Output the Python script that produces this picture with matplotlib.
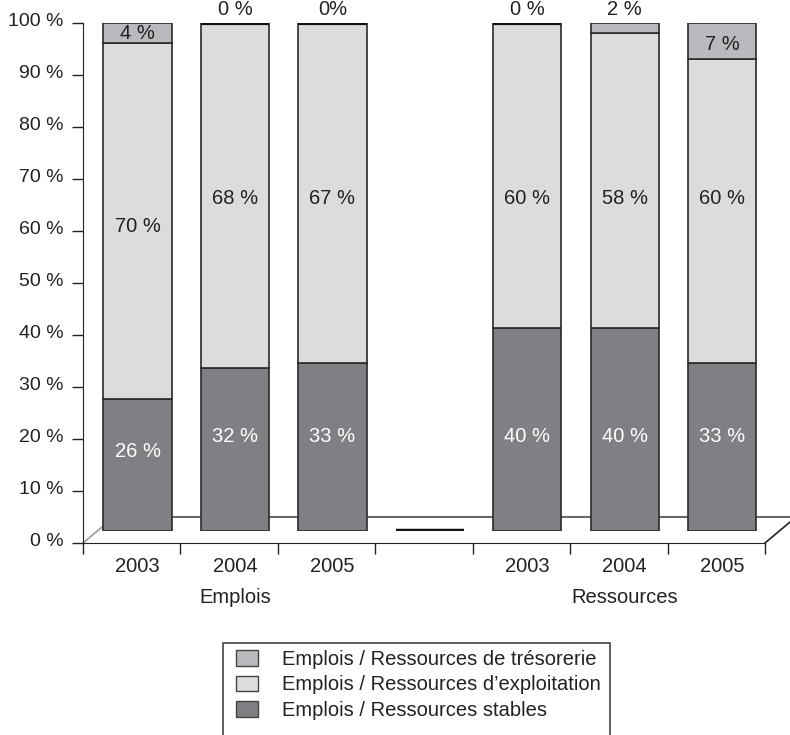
import matplotlib
matplotlib.use("Agg")
import matplotlib.pyplot as plt
import matplotlib.transforms as mtransforms
from matplotlib.patches import Patch, Rectangle

plt.rcParams['font.family'] = ['Liberation Sans', 'DejaVu Sans']

# --- data -------------------------------------------------------------
years = ['2003', '2004', '2005', '', '2003', '2004', '2005']
groups = ['Emplois', 'Ressources']
stables = [26, 32, 33, 0, 40, 40, 33]
exploitation = [70, 68, 67, 0, 60, 58, 60]
tresorerie = [4, 0, 0, 0, 0, 2, 7]
lbl_stables = ['26 %', '32 %', '33 %', '', '40 %', '40 %', '33 %']
lbl_exploit = ['70 %', '68 %', '67 %', '', '60 %', '58 %', '60 %']
lbl_treso = ['4 %', '0 %', '0%', '', '0 %', '2 %', '7 %']
legend_labels = ['Emplois / Ressources de trésorerie',
                 'Emplois / Ressources d\u2019exploitation',
                 'Emplois / Ressources stables']

# label heights inside the bars (layout only)
y_stables = [15.6, 18.7, 18.7, 0, 18.7, 18.7, 18.7]
y_exploit = [60, 65.4, 65.4, 0, 65.4, 65.4, 65.4]
y_treso = [98, 102.6, 102.6, 0, 102.6, 102.6, 95.7]

c_stable = '#808084'
c_exploit = '#dcdcde'
c_treso = '#b9babd'
edge = '#2a2a2a'
txt = '#222222'
fs = 14.5

W, H = 790, 735
fig = plt.figure(figsize=(W / 100, H / 100), dpi=100)

# axis frame (0 % .. 100 % on the front edge)
ax = fig.add_axes([83 / W, (H - 543) / H, 682 / W, 520 / H])
ax.set_xlim(-0.5, 6.5)
ax.set_ylim(0, 100)
for s in ['top', 'right']:
    ax.spines[s].set_visible(False)
ax.spines['left'].set_color(txt)
ax.spines['bottom'].set_color(txt)
ax.set_yticks(range(0, 101, 10))
ax.set_yticklabels([f'{v} %' for v in range(0, 101, 10)], fontsize=14, color=txt)
ax.set_xticks([i - 0.5 for i in range(8)])
ax.set_xticklabels([])
ax.tick_params(axis='both', length=8, width=1, color=txt, direction='out')
ax.tick_params(axis='y', pad=6)
# labels sit a little above their ticks
shift = mtransforms.ScaledTranslation(0, 3.5 / 100, fig.dpi_scale_trans)
for t in ax.get_yticklabels():
    t.set_transform(t.get_transform() + shift)

# pseudo 3D floor
dx, dy = 0.318, 5.0
ax.plot([-0.5, -0.5 + dx], [0, dy], color='#9a9a9a', lw=1.2, clip_on=False, zorder=1)
ax.plot([-0.5 + dx, 6.5 + dx], [dy, dy], color='#6a6a6a', lw=1.5, clip_on=False, zorder=1)
ax.plot([6.5, 6.5 + dx], [0, dy], color=txt, lw=1.2, clip_on=False, zorder=1)

# year and group labels
for i, y in enumerate(years):
    ax.text(i + 0.06, -4.6, y, ha='center', va='center', fontsize=fs, color=txt, clip_on=False)
ax.text(1.06, -10.4, groups[0], ha='center', va='center', fontsize=fs, color=txt, clip_on=False)
ax.text(5.06, -10.4, groups[1], ha='center', va='center', fontsize=fs, color=txt, clip_on=False)

# bars sit on the floor, a bit above the front edge
bx = fig.add_axes([83 / W, (H - 531) / H, 682 / W, 508 / H])
bx.set_xlim(-0.5, 6.5)
bx.set_ylim(0, 100)
bx.axis('off')
bx.patch.set_alpha(0)

x = [i + 0.06 for i in range(len(years))]
for i in range(len(years)):
    bottom = 0
    for val, col in [(stables[i], c_stable), (exploitation[i], c_exploit), (tresorerie[i], c_treso)]:
        lw = 1.2 if val > 0 else 3
        ec = edge if val > 0 else '#111111'
        bx.bar(x[i], val, 0.70, bottom=bottom, color=col, edgecolor=ec, linewidth=lw)
        bottom += val

for i in range(len(years)):
    if lbl_stables[i]:
        bx.text(x[i], y_stables[i], lbl_stables[i], ha='center', va='center', fontsize=fs, color='white')
    if lbl_exploit[i]:
        bx.text(x[i], y_exploit[i], lbl_exploit[i], ha='center', va='center', fontsize=fs, color=txt)
    if lbl_treso[i]:
        bx.text(x[i], y_treso[i], lbl_treso[i], ha='center', va='center', fontsize=fs, color=txt, clip_on=False)

# legend with an open-bottom box
fig.patches.append(Rectangle((223 / W, -0.02), (610 - 223) / W, (H - 643) / H + 0.02,
                             transform=fig.transFigure, fill=False, edgecolor='#444444', lw=1.2))
handles = [Patch(facecolor=c, edgecolor='#444444', lw=1) for c in [c_treso, c_exploit, c_stable]]
fig.legend(handles, legend_labels, loc='upper left', bbox_to_anchor=(236 / W, 1 - 650 / H),
           frameon=False, fontsize=fs, handlelength=1.1, handleheight=0.8,
           handletextpad=1.2, labelspacing=0.32, borderaxespad=0, borderpad=0,
           labelcolor=txt)

fig.savefig('out.png', dpi=100)
